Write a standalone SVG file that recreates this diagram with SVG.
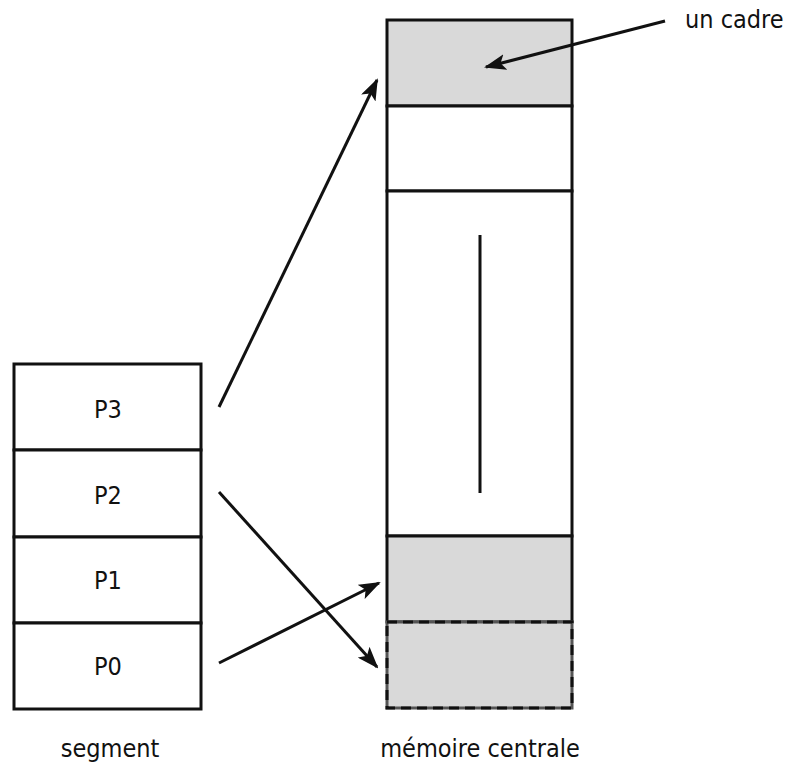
<svg xmlns="http://www.w3.org/2000/svg" width="791" height="768" viewBox="0 0 791 768">
<style>
.box{fill:#fff;stroke:#111;stroke-width:3}
.frame{fill:#d9d9d9;stroke:#111;stroke-width:3}
.t{font-family:"DejaVu Sans Condensed","DejaVu Sans",sans-serif;font-size:25px;fill:#111}
.c{stroke:#111;stroke-width:3;fill:none}
</style>
<defs>
<marker id="ah" viewBox="0 0 22 16" refX="20" refY="8" markerWidth="22" markerHeight="16" markerUnits="userSpaceOnUse" orient="auto">
<path d="M0,0 L22,8 L0,16 L5,8 Z" fill="#111"/>
</marker>
</defs>
<rect width="791" height="768" fill="#fff"/>
<g id="segment">
<g id="P3"><rect class="box" x="14" y="364" width="187" height="86"/><text class="t" x="108" y="418" text-anchor="middle">P3</text></g>
<g id="P2"><rect class="box" x="14" y="450" width="187" height="87"/><text class="t" x="108" y="504" text-anchor="middle">P2</text></g>
<g id="P1"><rect class="box" x="14" y="537" width="187" height="86"/><text class="t" x="108" y="589" text-anchor="middle">P1</text></g>
<g id="P0"><rect class="box" x="14" y="623" width="187" height="86"/><text class="t" x="108" y="675" text-anchor="middle">P0</text></g>
<text class="t" x="110" y="757" text-anchor="middle">segment</text>
</g>
<g id="memoire">
<g id="cadre0"><rect class="frame" x="387" y="20" width="185" height="86"/></g>
<g id="cadre1"><rect class="box" x="387" y="106" width="185" height="85"/></g>
<g id="zone"><rect class="box" x="387" y="191" width="185" height="345"/><line x1="480" y1="235" x2="480" y2="493" stroke="#111" stroke-width="3"/></g>
<g id="cadreP0"><rect class="frame" x="387" y="536" width="185" height="86"/></g>
<g id="cadreP2"><rect x="387" y="622" width="185" height="86" fill="#d9d9d9" stroke="#555" stroke-width="3"/><rect x="387" y="622" width="185" height="86" fill="none" stroke="#111" stroke-width="3" stroke-dasharray="10 6"/></g>
<text class="t" x="480" y="757" text-anchor="middle">mémoire centrale</text>
</g>
<g id="label"><text class="t" x="685" y="28">un cadre</text></g>
<g id="connectors">
<line class="c" x1="219" y1="407" x2="377" y2="80" marker-end="url(#ah)"/>
<line class="c" x1="219" y1="492" x2="377" y2="667" marker-end="url(#ah)"/>
<line class="c" x1="219" y1="663" x2="379" y2="583" marker-end="url(#ah)"/>
<line class="c" x1="665" y1="21" x2="486" y2="67" marker-end="url(#ah)"/>
</g>
</svg>
